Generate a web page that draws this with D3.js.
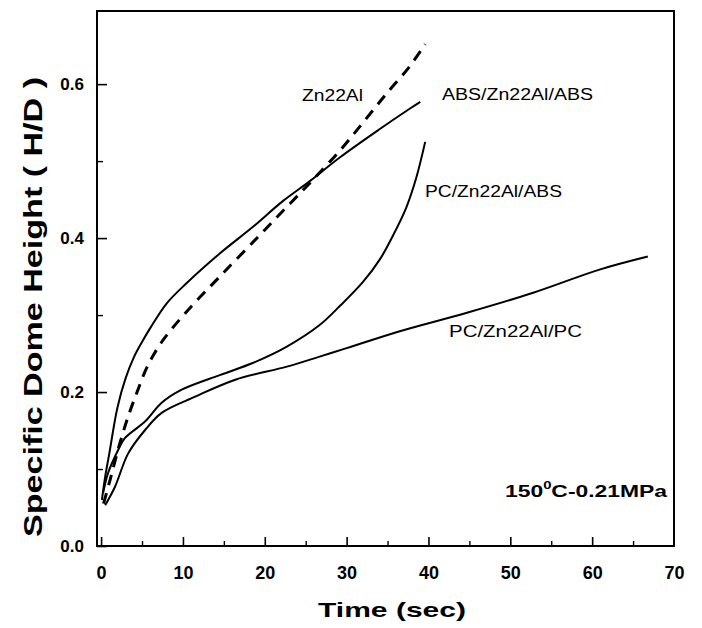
<!DOCTYPE html>
<html>
<head>
<meta charset="utf-8">
<script src="https://cdn.jsdelivr.net/npm/d3@7"></script>
<style>
  body { margin: 0; background: white; }
</style>
</head>
<body>
<div id="my_dataviz"></div>
<script>
// data
const absTime = [0.1, 0.5, 1.0, 2.0, 3.0, 4.0, 5.0, 6.0, 8.0, 10.5, 14.5, 18.6, 22.2, 25.5, 29.2, 34.1, 37.7, 39.0];
const absVal  = [0.06, 0.09, 0.12, 0.18, 0.218, 0.245, 0.265, 0.283, 0.315, 0.342, 0.38, 0.415, 0.448, 0.474, 0.505, 0.542, 0.568, 0.577];

const znTime = [0.3, 1.1, 2.2, 3.3, 4.4, 5.6, 7.4, 10.5, 14.5, 19.4, 23.1, 25.9, 29.2, 32, 34.9, 37.7, 39.6];
const znVal  = [0.055, 0.086, 0.13, 0.168, 0.2, 0.232, 0.265, 0.305, 0.35, 0.404, 0.445, 0.476, 0.514, 0.55, 0.588, 0.623, 0.652];

const pcAbsTime = [0.25, 0.86, 2.1, 2.9, 5.4, 7.4, 9.85, 14.5, 18.6, 22.7, 26.7, 29.2, 32, 34.1, 35.7, 37.3, 38.5, 39.6];
const pcAbsVal  = [0.069, 0.095, 0.125, 0.14, 0.162, 0.186, 0.203, 0.222, 0.238, 0.259, 0.287, 0.312, 0.343, 0.373, 0.404, 0.44, 0.478, 0.525];

const pcPcTime = [0.5, 1.7, 3.3, 5.4, 7.4, 11.5, 16.4, 22.7, 26.7, 30, 36.5, 44.7, 52.8, 60.9, 66.8];
const pcPcVal  = [0.053, 0.077, 0.12, 0.151, 0.173, 0.194, 0.216, 0.233, 0.246, 0.257, 0.279, 0.303, 0.329, 0.359, 0.376];

const xTicks = [0, 10, 20, 30, 40, 50, 60, 70];
const xMinor = [5, 15, 25, 35, 45, 55, 65];
const yTicks = [0.0, 0.2, 0.4, 0.6];
const yMinor = [0.1, 0.3, 0.5];

// layout
const width = 702;
const height = 628;
const plot = {left: 97, right: 674, top: 11, bottom: 546};
const fontFamily = `Arial, "Liberation Sans", sans-serif`;

const xScale = d3.scaleLinear()
                .domain([-0.5, 70])
                .range([plot.left, plot.right]);
const yScale = d3.scaleLinear()
                .domain([0, 0.695])
                .range([plot.bottom, plot.top]);

const svg = d3.select(`#my_dataviz`)
            .append(`svg`)
                .attr(`width`, width)
                .attr(`height`, height);

// x axis, ticks point inward
const xAxis = svg.append(`g`)
        .attr(`transform`, `translate(0, ${plot.bottom})`)
        .call(d3.axisBottom(xScale).tickValues(xTicks).tickSize(-9).tickPadding(20)
              .tickFormat(d3.format(`d`)))
        .call(g => g.select(`.domain`).remove())
        .call(g => g.selectAll(`.tick line`).attr(`stroke-width`, 1.6))
        .call(g => g.selectAll(`.tick text`)
            .style(`font`, `bold 18px ${fontFamily}`)
            .attr(`fill`, `black`));
xAxis.selectAll(`.tick`).filter(d => d === 70).select(`line`).remove();

svg.append(`g`)
        .attr(`transform`, `translate(0, ${plot.bottom})`)
        .call(d3.axisBottom(xScale).tickValues(xMinor).tickSize(-5).tickFormat(``))
        .call(g => g.select(`.domain`).remove())
        .call(g => g.selectAll(`.tick line`).attr(`stroke-width`, 1.4));

// y axis
svg.append(`g`)
        .attr(`transform`, `translate(${plot.left}, 0)`)
        .call(d3.axisLeft(yScale).tickValues(yTicks).tickSize(-10).tickPadding(13)
              .tickFormat(d3.format(`.1f`)))
        .call(g => g.select(`.domain`).remove())
        .call(g => g.selectAll(`.tick line`).attr(`stroke-width`, 1.6))
        .call(g => g.selectAll(`.tick text`)
            .style(`font`, `bold 17px ${fontFamily}`)
            .attr(`fill`, `black`));

svg.append(`g`)
        .attr(`transform`, `translate(${plot.left}, 0)`)
        .call(d3.axisLeft(yScale).tickValues(yMinor).tickSize(-6).tickFormat(``))
        .call(g => g.select(`.domain`).remove())
        .call(g => g.selectAll(`.tick line`).attr(`stroke-width`, 1.4));

// frame
svg.append(`rect`)
    .attr(`x`, plot.left)
    .attr(`y`, plot.top)
    .attr(`width`, plot.right - plot.left)
    .attr(`height`, plot.bottom - plot.top)
    .attr(`fill`, `none`)
    .attr(`stroke`, `black`)
    .attr(`stroke-width`, 2);

// curves
const line = d3.line()
    .x(d => xScale(d[0]))
    .y(d => yScale(d[1]))
    .curve(d3.curveCatmullRom.alpha(0.5));

const series = [
    {t: absTime, v: absVal, dash: null, w: 2},
    {t: znTime, v: znVal, dash: `11,8`, w: 3},
    {t: pcAbsTime, v: pcAbsVal, dash: null, w: 2},
    {t: pcPcTime, v: pcPcVal, dash: null, w: 2}
];

series.forEach(s => {
    svg.append(`path`)
        .datum(s.t.map((t, i) => [t, s.v[i]]))
        .attr(`d`, line)
        .attr(`fill`, `none`)
        .attr(`stroke`, `black`)
        .attr(`stroke-width`, s.w)
        .attr(`stroke-dasharray`, s.dash);
});

// curve labels
const labels = [
    {text: `Zn22Al`, x: 302, y: 101, len: 61},
    {text: `ABS/Zn22Al/ABS`, x: 442, y: 100, len: 151},
    {text: `PC/Zn22Al/ABS`, x: 425, y: 197, len: 137},
    {text: `PC/Zn22Al/PC`, x: 449, y: 337, len: 133}
];

labels.forEach(l => {
    svg.append(`text`)
        .attr(`x`, l.x)
        .attr(`y`, l.y)
        .attr(`textLength`, l.len)
        .attr(`lengthAdjust`, `spacingAndGlyphs`)
        .style(`font`, `16px ${fontFamily}`)
        .attr(`fill`, `black`)
        .text(l.text);
});

// condition note
const note = svg.append(`text`)
    .attr(`x`, 505)
    .attr(`y`, 497)
    .attr(`textLength`, 162)
    .attr(`lengthAdjust`, `spacingAndGlyphs`)
    .style(`font`, `bold 17px ${fontFamily}`)
    .attr(`fill`, `black`);
note.append(`tspan`).text(`150`);
note.append(`tspan`).attr(`dy`, -8).style(`font-size`, `11px`).text(`0`);
note.append(`tspan`).attr(`dy`, 8).text(`C-0.21MPa`);

// axis titles
svg.append(`text`)
    .attr(`x`, 318)
    .attr(`y`, 617)
    .attr(`textLength`, 148)
    .attr(`lengthAdjust`, `spacingAndGlyphs`)
    .style(`font`, `bold 21px ${fontFamily}`)
    .attr(`fill`, `black`)
    .text(`Time (sec)`);

svg.append(`text`)
    .attr(`transform`, `translate(42, 537) rotate(-90)`)
    .attr(`textLength`, 460)
    .attr(`lengthAdjust`, `spacingAndGlyphs`)
    .style(`font`, `bold 26px ${fontFamily}`)
    .attr(`fill`, `black`)
    .text(`Specific Dome Height ( H/D )`);
</script>
</body>
</html>
